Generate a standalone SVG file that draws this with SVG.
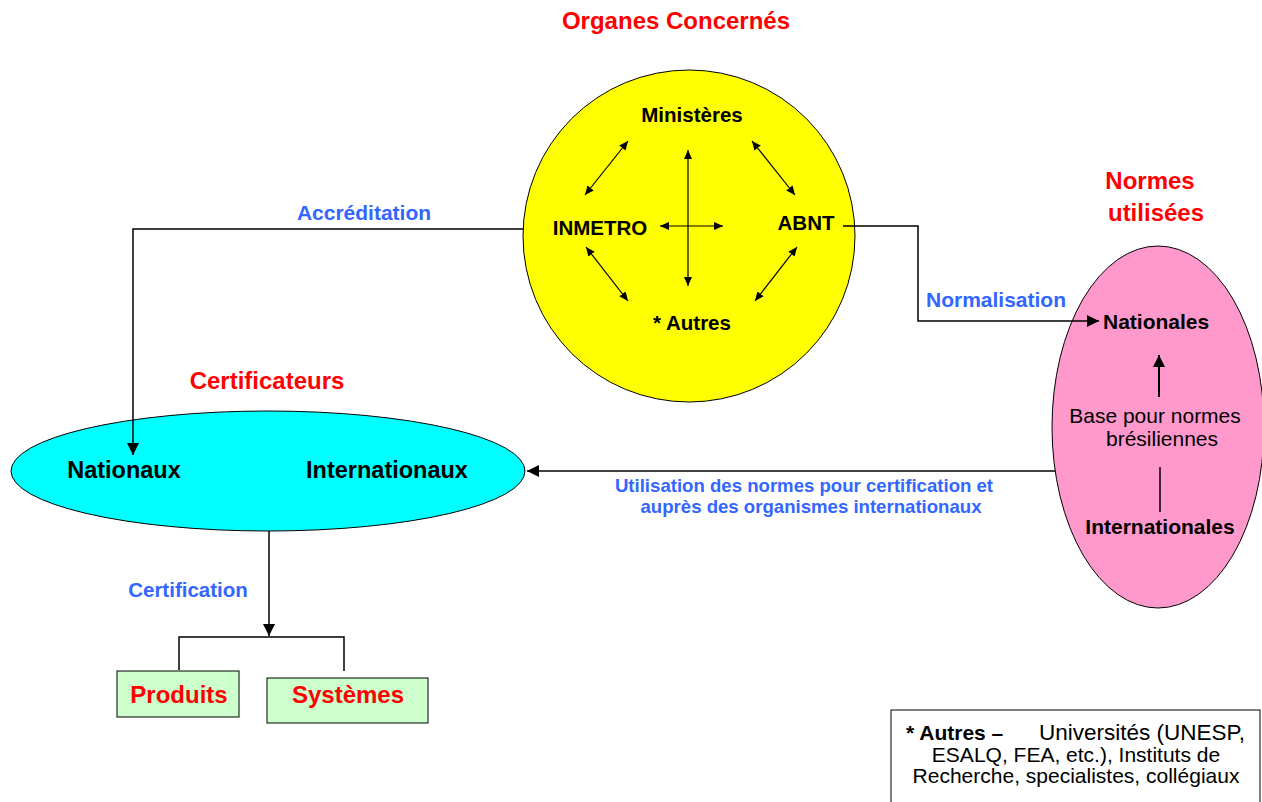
<svg xmlns="http://www.w3.org/2000/svg" width="1262" height="802" viewBox="0 0 1262 802">
<style>
text{font-family:"Liberation Sans",Arial,sans-serif}
.b{font-weight:bold}
.red{fill:#FF0000;font-weight:bold;font-size:24px}
.blue{fill:#3366FF;font-weight:bold}
.lbl{fill:#000;font-weight:bold}
.node{stroke:#000;stroke-width:1}
.con{fill:none;stroke:#000;stroke-width:1.5}
.in{fill:none;stroke:#000;stroke-width:1.2}
</style>
<defs>
<marker id="big" viewBox="0 0 12 12" refX="12" refY="6" markerWidth="12" markerHeight="12" markerUnits="userSpaceOnUse" orient="auto-start-reverse"><path d="M0,0 L12,6 L0,12 z" fill="#000"/></marker>
<marker id="sm" viewBox="0 0 9 8" refX="9" refY="4" markerWidth="9" markerHeight="8" markerUnits="userSpaceOnUse" orient="auto-start-reverse"><path d="M0,0 L9,4 L0,8 z" fill="#000"/></marker>
</defs>
<rect width="1262" height="802" fill="#fff"/>

<g id="organes">
<text class="red" x="676" y="29" text-anchor="middle">Organes Concernés</text>
<circle class="node" cx="689" cy="236" r="166" fill="#FFFF00"/>
<text class="lbl" x="692" y="122" font-size="20.5" text-anchor="middle">Ministères</text>
<text class="lbl" x="600" y="235" font-size="20.5" text-anchor="middle">INMETRO</text>
<text class="lbl" x="806" y="230" font-size="20.5" text-anchor="middle">ABNT</text>
<text class="lbl" x="692" y="330" font-size="20.5" text-anchor="middle">* Autres</text>
<line class="in" x1="628" y1="141" x2="585" y2="195" marker-start="url(#sm)" marker-end="url(#sm)"/>
<line class="in" x1="752" y1="141" x2="795" y2="195" marker-start="url(#sm)" marker-end="url(#sm)"/>
<line class="in" x1="586" y1="247" x2="628" y2="301" marker-start="url(#sm)" marker-end="url(#sm)"/>
<line class="in" x1="797" y1="247" x2="755" y2="301" marker-start="url(#sm)" marker-end="url(#sm)"/>
<line class="in" x1="688" y1="150" x2="688" y2="286" marker-start="url(#sm)" marker-end="url(#sm)"/>
<line class="in" x1="660" y1="226" x2="723" y2="226" marker-start="url(#sm)" marker-end="url(#sm)"/>
</g>

<g id="certificateurs">
<text class="red" x="267" y="389" text-anchor="middle">Certificateurs</text>
<ellipse class="node" cx="268" cy="471" rx="257" ry="60" fill="#00FFFF"/>
<text class="lbl" x="124" y="478" font-size="23.5" text-anchor="middle">Nationaux</text>
<text class="lbl" x="387" y="478" font-size="23.5" text-anchor="middle">Internationaux</text>
</g>

<g id="normes">
<text class="red" x="1150" y="189" text-anchor="middle">Normes</text>
<text class="red" x="1156" y="221" text-anchor="middle">utilisées</text>
<ellipse class="node" cx="1158" cy="427" rx="106" ry="181" fill="#FF99CC"/>
<text class="lbl" x="1103" y="329" font-size="21">Nationales</text>
<line x1="1159" y1="397" x2="1159" y2="355" stroke="#000" stroke-width="2" marker-end="url(#big)"/>
<text x="1155" y="423" font-size="21" text-anchor="middle">Base pour normes</text>
<text x="1162" y="446" font-size="21" text-anchor="middle">brésiliennes</text>
<line x1="1160" y1="467" x2="1160" y2="512" stroke="#000" stroke-width="1.5"/>
<text class="lbl" x="1160" y="534" font-size="21" text-anchor="middle">Internationales</text>
</g>

<g id="produits">
<rect class="node" x="117" y="671" width="122" height="46" fill="#CCFFCC"/>
<text class="red" x="179" y="703" font-size="26.4" text-anchor="middle">Produits</text>
</g>
<g id="systemes">
<rect class="node" x="267" y="678" width="161" height="45" fill="#CCFFCC"/>
<text class="red" x="348" y="703" font-size="26.2" text-anchor="middle">Systèmes</text>
</g>

<g id="note">
<rect class="node" x="891" y="710" width="369" height="100" fill="#fff"/>
<text x="906" y="740" font-size="21"><tspan class="b">* Autres –</tspan></text>
<text x="1039" y="740" font-size="22.5">Universités (UNESP,</text>
<text x="1076" y="762" font-size="21" text-anchor="middle">ESALQ, FEA, etc.), Instituts de</text>
<text x="1076" y="783" font-size="21" text-anchor="middle">Recherche, specialistes, collégiaux</text>
</g>

<g id="connectors">
<path class="con" d="M523,229 H133 V455" marker-end="url(#big)"/>
<path class="con" d="M843,226 H918 V321 H1099" marker-end="url(#big)"/>
<path class="con" d="M1055,471 H527" marker-end="url(#big)"/>
<path class="con" d="M269,531 V636" marker-end="url(#big)"/>
<path class="con" d="M179,670 V637 H344 V671"/>
</g>

<g id="labels">
<text class="blue" x="364" y="220" font-size="21" text-anchor="middle">Accréditation</text>
<text class="blue" x="996" y="307" font-size="21" text-anchor="middle">Normalisation</text>
<text class="blue" x="804" y="492" font-size="18.6" text-anchor="middle">Utilisation des normes pour certification et</text>
<text class="blue" x="811" y="513" font-size="18.6" text-anchor="middle">auprès des organismes internationaux</text>
<text class="blue" x="188" y="597" font-size="20.5" text-anchor="middle">Certification</text>
</g>
</svg>
